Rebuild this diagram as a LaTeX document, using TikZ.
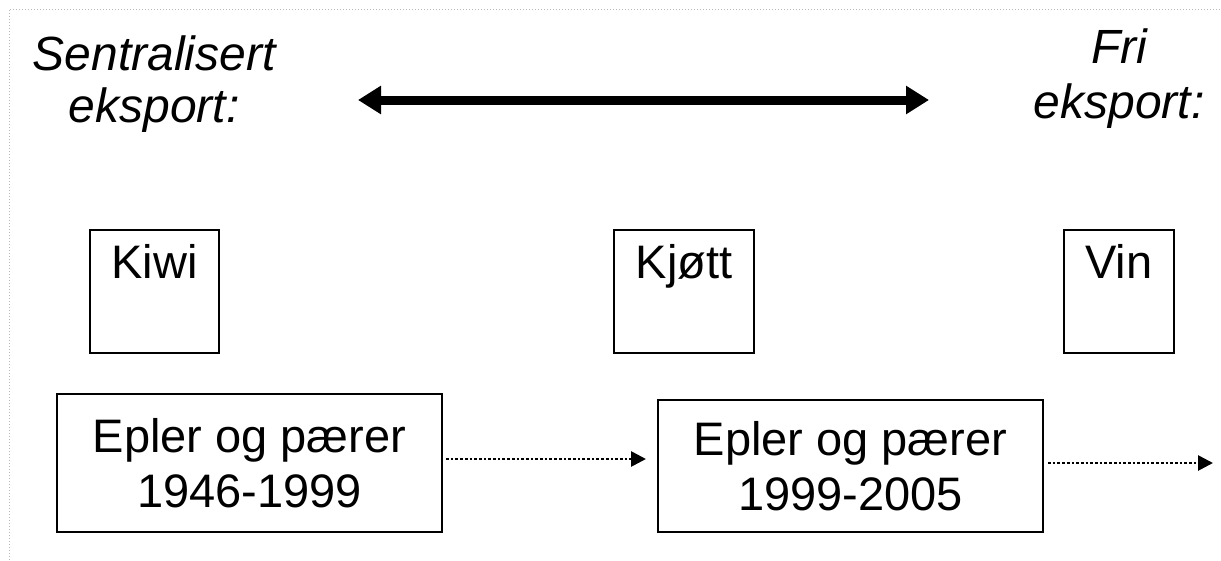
\documentclass[tikz,border=0pt]{standalone}
\usepackage{fontspec}
\setmainfont{Liberation Sans}
\usetikzlibrary{arrows.meta}
\begin{document}
\begin{tikzpicture}[x=1pt,y=-1pt,
  ital/.style={font=\fontsize{48}{52}\selectfont\itshape, inner sep=0pt, align=center},
  prodbox/.style={draw, line width=2pt, inner sep=0pt, font=\fontsize{47}{54}\selectfont, text height=48pt, text depth=75pt},
  periodbox/.style={draw, line width=2pt, inner sep=0pt, font=\fontsize{47}{55}\selectfont, align=center},
  dotarrow/.style={line width=2.7pt, dash pattern=on 2.7pt off 2pt, -{Triangle[length=15pt,width=15pt]}}
]
\useasboundingbox (0,0) rectangle (1221,560);
% frame
\draw[gray!55, line width=1pt, dash pattern=on 1pt off 2pt] (9,560) -- (9,9) -- (1221,9);
% titles
\node[ital] (sent) at (154,84) {Sentralisert\\eksport:};
\node[ital, font=\fontsize{48}{55}\selectfont\itshape] (fri) at (1119,78.5) {Fri\\eksport:};
% double arrow
\coordinate (aL) at (358,100);
\coordinate (aR) at (929,100);
\draw[line width=9pt, {Triangle[length=23pt,width=27pt]}-{Triangle[length=23pt,width=27pt]}] (aL) -- (aR);
% product boxes
\node[prodbox, minimum width=129pt, anchor=north west] (kiwi) at (89,229) {Kiwi};
\node[prodbox, minimum width=140pt, anchor=north west] (kjott) at (613,229) {Kjøtt};
\node[prodbox, minimum width=110pt, anchor=north west] (vin) at (1063,229) {Vin};
% period boxes
\node[periodbox, minimum width=385pt, minimum height=138pt] (ep1) at (249.5,463) {Epler og pærer\\1946-1999};
\node[periodbox, minimum width=385pt, minimum height=132pt] (ep2) at (850.5,466) {Epler og pærer\\1999-2005};
\coordinate (endR) at (1213,463);
\draw[dotarrow, shorten <=3pt, shorten >=11pt] ([yshift=4pt]ep1.east) -- ([yshift=4pt]ep1.east -| ep2.west);
\draw[dotarrow, shorten <=4pt] (ep2.east |- endR) -- (endR);
\end{tikzpicture}
\end{document}
